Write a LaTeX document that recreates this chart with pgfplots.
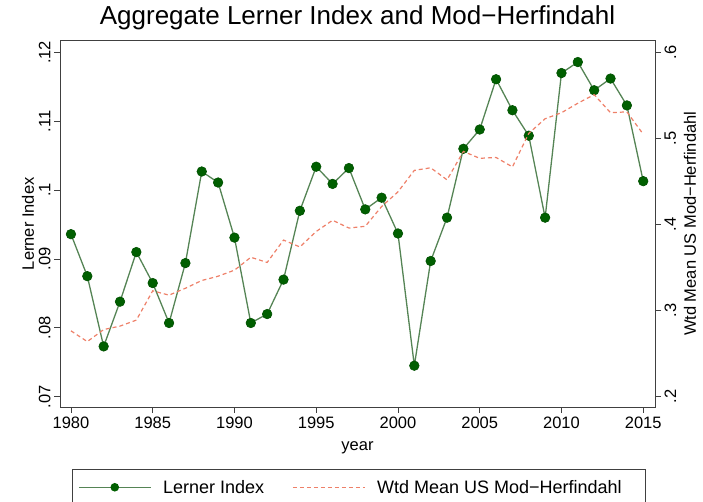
\documentclass[border=0pt]{standalone}
\usepackage{fontspec}
\setmainfont{Liberation Sans}
\usepackage{pgfplots}
\pgfplotsset{compat=1.18}

\definecolor{lmark}{RGB}{0,95,0}
\definecolor{lline}{RGB}{85,132,85}
\definecolor{hline}{RGB}{238,128,105}

\pgfplotsset{
  statabox/.style={
    scale only axis, width=595pt, height=366.3pt,
    xmin=1979.33, xmax=2015.72,
    tick align=outside, major tick length=6pt,
    axis line style={black!75, line width=0.9pt},
    every tick/.style={black!75, line width=0.8pt},
    tick label style={font=\fontsize{16.5}{18}\selectfont},
    label style={font=\fontsize{16.5}{18}\selectfont},
    /pgf/number format/assume math mode=true,
    /pgf/number format/1000 sep={},
  },
}

\begin{document}
\begin{tikzpicture}
\begin{axis}[statabox,
  ymin=0.0685, ymax=0.1217,
  xtick={1980,1985,...,2015}, xtick pos=bottom,
  ytick={0.07,0.08,0.09,0.10,0.11,0.12}, ytick pos=left,
  yticklabels={.07,.08,.09,.1,.11,.12},
  yticklabel style={rotate=90, anchor=south},
  xlabel={year},
  xlabel style={at={(axis description cs:0.5,-0.112)}, anchor=center},
  ylabel={Lerner Index},
  ylabel style={at={(axis description cs:-0.054,0.5)}, anchor=center},
  title={Aggregate Lerner Index and Mod\textminus Herfindahl},
  title style={at={(axis description cs:0.5,1.029)}, anchor=base, font=\fontsize{26}{30}\selectfont},
]
\addplot[lline, line width=1.3pt, mark=*, mark size=4.8pt,
  mark options={solid, fill=lmark, draw=lmark!85!black, line width=0.6pt}]
  coordinates {
  (1980,0.0936) (1981,0.0875) (1982,0.0773) (1983,0.0838) (1984,0.0910)
  (1985,0.0865) (1986,0.0807) (1987,0.0894) (1988,0.1027) (1989,0.1011)
  (1990,0.0931) (1991,0.0807) (1992,0.0820) (1993,0.0870) (1994,0.0970)
  (1995,0.1034) (1996,0.1009) (1997,0.1032) (1998,0.0972) (1999,0.0989)
  (2000,0.0937) (2001,0.0745) (2002,0.0897) (2003,0.0960) (2004,0.1060)
  (2005,0.1088) (2006,0.1161) (2007,0.1116) (2008,0.1079) (2009,0.0960)
  (2010,0.1170) (2011,0.1186) (2012,0.1145) (2013,0.1162) (2014,0.1123)
  (2015,0.1013)
};
\end{axis}

\begin{axis}[statabox,
  ymin=0.188, ymax=0.6137,
  axis x line=none, axis y line*=right,
  ytick={0.2,0.3,0.4,0.5,0.6},
  yticklabels={.2,.3,.4,.5,.6},
  yticklabel style={rotate=90, anchor=north},
  ylabel={Wtd Mean US Mod\textminus Herfindahl},
  ylabel style={at={(axis description cs:1.0588,0.5)}, anchor=center, rotate=0},
  legend columns=2,
  legend image code/.code={
    \draw[#1, mark repeat=2, mark phase=2] plot coordinates {(0pt,0pt) (36pt,0pt) (72pt,0pt)};
  },
  legend style={
    at={(axis description cs:0.0197,-0.1693)}, anchor=north west,
    draw=black!75, line width=0.8pt,
    inner xsep=6pt, inner ysep=11.4pt,
    font=\fontsize{18}{20}\selectfont,
    nodes={inner sep=0pt, text height=12.9pt, text depth=0pt},
    /tikz/every odd column/.append style={column sep=11.7pt},
    /tikz/every even column/.append style={column sep=28pt},
  },
]
\addlegendimage{lline, line width=1.3pt, mark=*, mark size=3.6pt,
  mark options={solid, fill=lmark, draw=lmark}}
\addlegendentry{Lerner Index}
\addplot[hline, line width=1.2pt, dash pattern=on 4pt off 3pt]
  coordinates {
  (1980,0.2765) (1981,0.264) (1982,0.278) (1983,0.282) (1984,0.289)
  (1985,0.323) (1986,0.318) (1987,0.326) (1988,0.335) (1989,0.340)
  (1990,0.347) (1991,0.362) (1992,0.356) (1993,0.382) (1994,0.374)
  (1995,0.392) (1996,0.405) (1997,0.396) (1998,0.398) (1999,0.421)
  (2000,0.438) (2001,0.463) (2002,0.466) (2003,0.452) (2004,0.485)
  (2005,0.477) (2006,0.478) (2007,0.467) (2008,0.506) (2009,0.523)
  (2010,0.530) (2011,0.541) (2012,0.551) (2013,0.530) (2014,0.531)
  (2015,0.505)
};
\addlegendentry{\makebox[262pt][l]{Wtd Mean US Mod\textminus Herfindahl}}
\end{axis}
\pgfresetboundingbox
\useasboundingbox (-60pt,-95pt) rectangle (643pt,407pt);
\end{tikzpicture}
\end{document}
